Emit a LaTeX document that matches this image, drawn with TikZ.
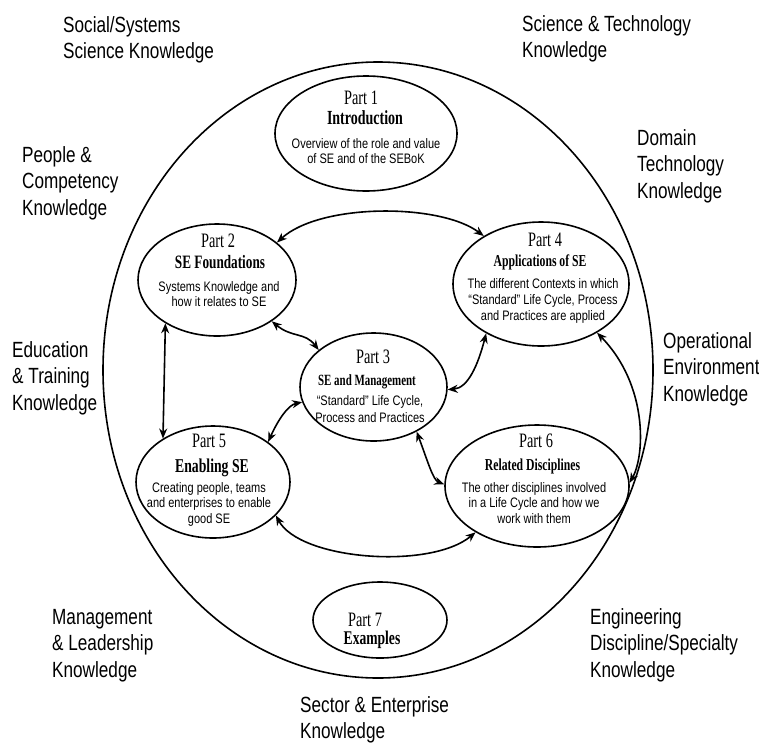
\documentclass[tikz,border=0pt]{standalone}
\usepackage{fontspec}
\usetikzlibrary{shapes.geometric,arrows.meta}
\newfontfamily\labfont[FakeStretch=0.78]{Liberation Sans}
\newfontfamily\serf[FakeStretch=0.7]{Liberation Serif}
\newfontfamily\bodyf[FakeStretch=0.8]{Liberation Sans}
\tikzset{
  part/.style={ellipse, draw, line width=1.6pt, inner sep=0pt},
  conn/.style={line width=1.6pt, {Stealth[length=10pt,width=8pt]}-{Stealth[length=10pt,width=8pt]}},
  lbl/.style={anchor=base west, align=left, inner sep=0pt, font=\labfont\fontsize{22}{26.5}\selectfont},
  ptxt/.style={anchor=base, inner sep=0pt, font=\serf\fontsize{20.5}{20}\selectfont},
  ttl/.style={anchor=base, inner sep=0pt},
  body/.style={anchor=base, align=center, inner sep=0pt},
}
\begin{document}
\begin{tikzpicture}[x=1pt,y=1pt]
\useasboundingbox (0,0) rectangle (759,-742);
% outer ellipse
\node[draw, ellipse, line width=1.6pt, minimum width=550pt, minimum height=616pt, inner sep=0pt] (outer) at (378,-370) {};
% part ellipses
\node[part, minimum width=182pt, minimum height=115pt] (p1) at (366,-133.5) {};
\node[part, minimum width=158pt, minimum height=112pt] (p2) at (217,-280) {};
\node[part, minimum width=176pt, minimum height=124pt] (p4) at (541,-284) {};
\node[part, minimum width=147pt, minimum height=108pt] (p3) at (373.5,-387) {};
\node[part, minimum width=154pt, minimum height=112pt] (p5) at (213,-482) {};
\node[part, minimum width=184pt, minimum height=122pt] (p6) at (537,-486) {};
\node[part, minimum width=134pt, minimum height=76pt] (p7) at (380,-620) {};
% Part 1
\node[ptxt] (t1a) at (361,-104) {Part 1};
\node[ttl, font=\serf\bfseries\fontsize{20}{20}\selectfont] (t1b) at (365,-124) {Introduction};
\node[body, font=\bodyf\fontsize{13.75}{15}\selectfont] (t1c) at (366,-163) {Overview of the role and value\\of SE and of the SEBoK};
% Part 2
\node[ptxt] (t2a) at (218,-247) {Part 2};
\node[ttl, font=\serf\bfseries\fontsize{18.9}{19}\selectfont] (t2b) at (220,-268) {SE Foundations};
\node[body, font=\bodyf\fontsize{13.75}{15}\selectfont] (t2c) at (219,-306) {Systems Knowledge and\\how it relates to SE};
% Part 4
\node[ptxt] (t4a) at (545,-246) {Part 4};
\node[ttl, font=\serf\bfseries\fontsize{16.7}{17}\selectfont] (t4b) at (540,-266) {Applications of SE};
\node[body, font=\bodyf\fontsize{13.75}{16}\selectfont] (t4c) at (543,-320) {The different Contexts in which\\“Standard” Life Cycle, Process\\and Practices are applied};
% Part 3
\node[ptxt] (t3a) at (373,-363) {Part 3};
\node[ttl, font=\serf\bfseries\fontsize{15.6}{16}\selectfont] (t3b) at (367,-385) {SE and Management};
\node[body, font=\bodyf\fontsize{13.75}{17}\selectfont] (t3c) at (370,-422) {“Standard” Life Cycle,\\Process and Practices};
% Part 5
\node[ptxt] (t5a) at (209,-447) {Part 5};
\node[ttl, font=\serf\bfseries\fontsize{19.6}{20}\selectfont] (t5b) at (212,-472) {Enabling SE};
\node[body, font=\bodyf\fontsize{13.75}{15.5}\selectfont] (t5c) at (209,-523) {Creating people, teams\\and enterprises to enable\\good SE};
% Part 6
\node[ptxt] (t6a) at (536,-447) {Part 6};
\node[ttl, font=\serf\bfseries\fontsize{16.7}{17}\selectfont] (t6b) at (532.5,-470) {Related Disciplines};
\node[body, font=\bodyf\fontsize{13.75}{15.5}\selectfont] (t6c) at (534,-523) {The other disciplines involved\\in a Life Cycle and how we\\work with them};
% Part 7
\node[ptxt] (t7a) at (365,-626) {Part 7};
\node[ttl, font=\serf\bfseries\fontsize{19.4}{19}\selectfont] (t7b) at (372,-644) {Examples};
% connectors
\draw[conn] (p2.32) .. controls (320,-203) and (440,-203) .. (p4.140);
\draw[conn] (p2.220) -- (p5.139);
\draw[conn] (p2.-37) .. controls (292,-338) and (305,-332) .. (p3.146);
\draw[conn] (p4.222) .. controls (478,-365) and (468,-388) .. (p3.-2);
\draw[conn] (p4.-41) .. controls (648,-385) and (645,-455) .. (p6.2);
\draw[conn] (p3.192) .. controls (288,-405) and (278,-420) .. (p5.36);
\draw[conn] (p3.-46) .. controls (428,-462) and (433,-480) .. (p6.179);
\draw[conn] (p5.-28) .. controls (300,-560) and (430,-570) .. (p6.217);
% outer labels
\node[lbl] (l1) at (63,-58.5) {Social/Systems\\Science Knowledge};
\node[lbl] (l2) at (522,-57.5) {Science \& Technology\\Knowledge};
\node[lbl] (l3) at (22,-215) {People \&\\Competency\\Knowledge};
\node[lbl] (l4) at (637,-198) {Domain\\Technology\\Knowledge};
\node[lbl] (l5) at (12,-410) {Education\\\& Training\\Knowledge};
\node[lbl] (l6) at (663,-401) {Operational\\Environment\\Knowledge};
\node[lbl] (l7) at (52,-677) {Management\\\& Leadership\\Knowledge};
\node[lbl] (l8) at (590,-677) {Engineering\\Discipline/Specialty\\Knowledge};
\node[lbl] (l9) at (300,-738.5) {Sector \& Enterprise\\Knowledge};
\end{tikzpicture}
\end{document}
